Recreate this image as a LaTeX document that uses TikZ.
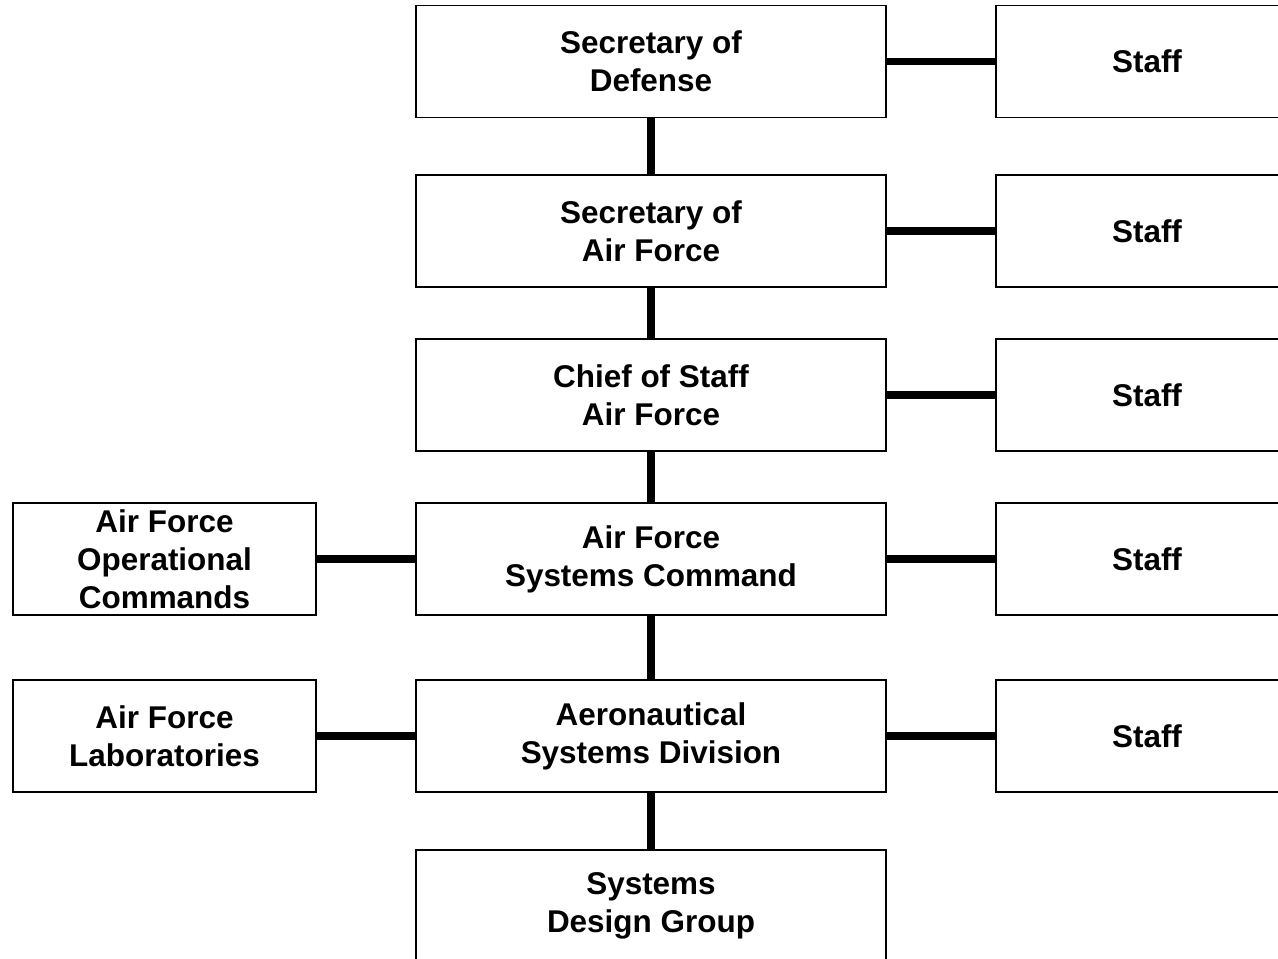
\documentclass[tikz,border=0pt]{standalone}
\usepackage{fontspec}
\setmainfont{Liberation Sans}
\usetikzlibrary{positioning}
\tikzstyle{orgBox} = [draw, line width=1.1pt, align=center, inner sep=0pt, minimum height=2.24cm, font=\fontsize{17.9}{21.5}\selectfont\bfseries]
\tikzstyle{mainBox} = [orgBox, minimum width=9.4cm]
\tikzstyle{sideBox} = [orgBox, minimum width=6.05cm]
\tikzstyle{linkLine} = [line width=4.5pt]
\newcommand{\mainX}{13.02}
\newcommand{\staffX}{22.94}
\newcommand{\leftX}{3.29}
\begin{document}
\begin{tikzpicture}
  \useasboundingbox (0,0) rectangle (25.56,-19.18);

  % chain of command
  \node [mainBox] (secDef) at (\mainX,-1.23) {Secretary of\\Defense};
  \node [mainBox] (secAF) at (\mainX,-4.62) {Secretary of\\Air Force};
  \node [mainBox] (chiefAF) at (\mainX,-7.9) {Chief of Staff\\Air Force};
  \node [mainBox] (afsc) at (\mainX,-11.18) {Air Force\\Systems Command};
  \node [mainBox] (asd) at (\mainX,-14.72) {Aeronautical\\Systems Division};
  \node [mainBox] (sdg) at (\mainX,-18.12) {Systems\\Design Group};

  \draw [linkLine] (secDef) -- (secAF);
  \draw [linkLine] (secAF) -- (chiefAF);
  \draw [linkLine] (chiefAF) -- (afsc);
  \draw [linkLine] (afsc) -- (asd);
  \draw [linkLine] (asd) -- (sdg);

  % staff boxes
  \foreach \row/\yPos in {secDef/-1.23, secAF/-4.62, chiefAF/-7.9, afsc/-11.18, asd/-14.72} {
    \node [sideBox] (staff\row) at (\staffX,\yPos) {Staff};
    \draw [linkLine] (\row.east) -- (staff\row.west);
  }

  % left side
  \node [sideBox] (opCommands) at (\leftX,-11.18) {Air Force\\Operational\\Commands};
  \node [sideBox] (labs) at (\leftX,-14.72) {Air Force\\Laboratories};
  \draw [linkLine] (opCommands.east) -- (afsc.west);
  \draw [linkLine] (labs.east) -- (asd.west);
\end{tikzpicture}
\end{document}
